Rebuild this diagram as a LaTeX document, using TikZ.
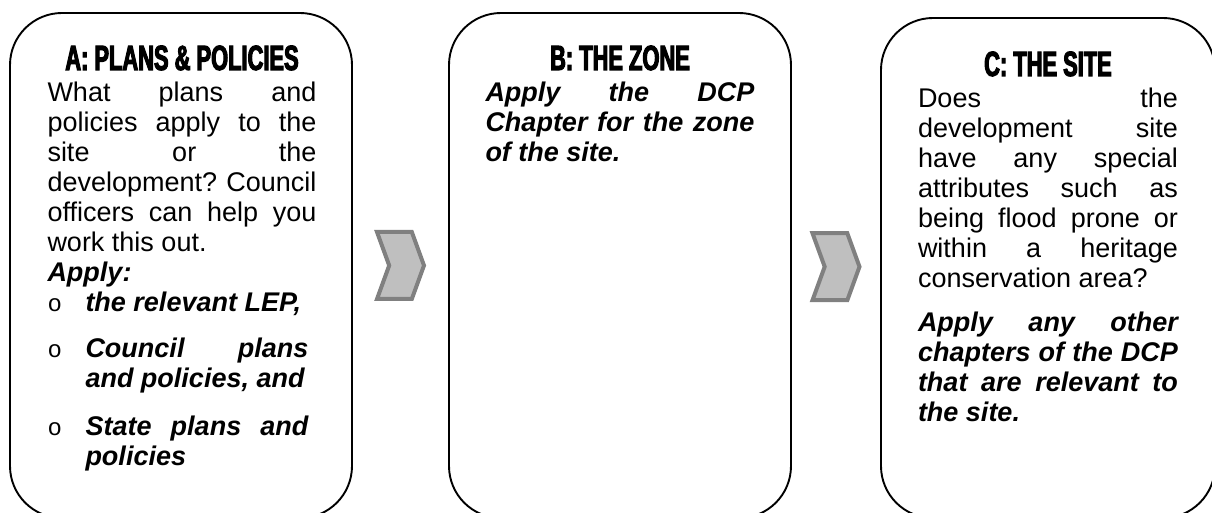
\documentclass[tikz,border=0pt]{standalone}
\usepackage{fontspec}
\setmainfont{Liberation Sans}
\setmonofont{Liberation Mono}
\newfontfamily\headfont[FakeStretch=0.625,FakeBold=3]{Liberation Sans}
\usetikzlibrary{shapes.symbols,positioning,calc}
\definecolor{chevfill}{RGB}{191,191,191}
\definecolor{chevline}{RGB}{128,128,128}
% one bullet line of a list, as in the first panel
\newcommand{\bulletline}[1]{{\leftskip=19pt\rightskip=4pt\noindent
  \llap{\makebox[19pt][l]{\fontsize{12}{12}\ttfamily\mdseries\upshape o}}#1\par}}

\begin{document}
\begin{tikzpicture}[x=1pt,y=-1pt,
  panel/.style={draw, line width=0.95pt, rounded corners=26pt, minimum width=171pt, minimum height=252.5pt, inner sep=0pt},
  head/.style={font=\headfont\bfseries\fontsize{17.5}{19}\selectfont, inner sep=0pt, anchor=base},
  txt/.style={align=justify, inner sep=0pt, font=\fontsize{13.5}{15}\selectfont},
  chev/.style={signal, signal to=east, signal from=west, signal pointer angle=140, draw=chevline, fill=chevfill, line width=2pt, minimum width=23.5pt, minimum height=33.5pt, inner sep=0pt}
]
\useasboundingbox (0,0) rectangle (606,256.5);
\clip (0,0) rectangle (606,256.5);

\node[panel] (cardA) at (90.5,132.75) {};
\node[panel] (cardB) at (310,132.75) {};
\node[panel, minimum width=167pt, minimum height=250pt] (cardC) at (524,134) {};

\node[head] (headA) at (91,35) {A: PLANS \& POLICIES};
\node[head] (headB) at (310,35) {B: THE ZONE};
\node[head] (headC) at (524,38) {C: THE SITE};

\node[txt, text width=134.5pt, below=5.5pt of headA] (textA) {What plans and\linebreak policies apply to the\linebreak site or the\linebreak development? Council\linebreak officers can help you\linebreak work this out.\par
{\bfseries\itshape Apply:\par}
\bfseries\itshape
\bulletline{the relevant LEP,}\vspace{8pt}
\bulletline{Council plans\linebreak and policies, and}\vspace{9pt}
\bulletline{State plans and\linebreak policies}};

\node[txt, text width=134.5pt, font=\fontsize{13.5}{15}\selectfont\bfseries\itshape, below=5.5pt of headB] (textB) {Apply the DCP\linebreak Chapter for the zone\linebreak of the site.};

\node[txt, text width=130pt, below=5.5pt of headC] (textC) {Does the\linebreak development site\linebreak have any special\linebreak attributes such as\linebreak being flood prone or\linebreak within a heritage\linebreak conservation area?\par\vspace{7pt}
{\bfseries\itshape Apply any other\linebreak chapters of the DCP\linebreak that are relevant to\linebreak the site.\par}};

\node[chev] (stepAB) at ($(cardA.east)!0.5!(cardB.west)$) {};
\node[chev] (stepBC) at ($(cardB.east)!0.5!(cardC.west)$) {};
\end{tikzpicture}
\end{document}
